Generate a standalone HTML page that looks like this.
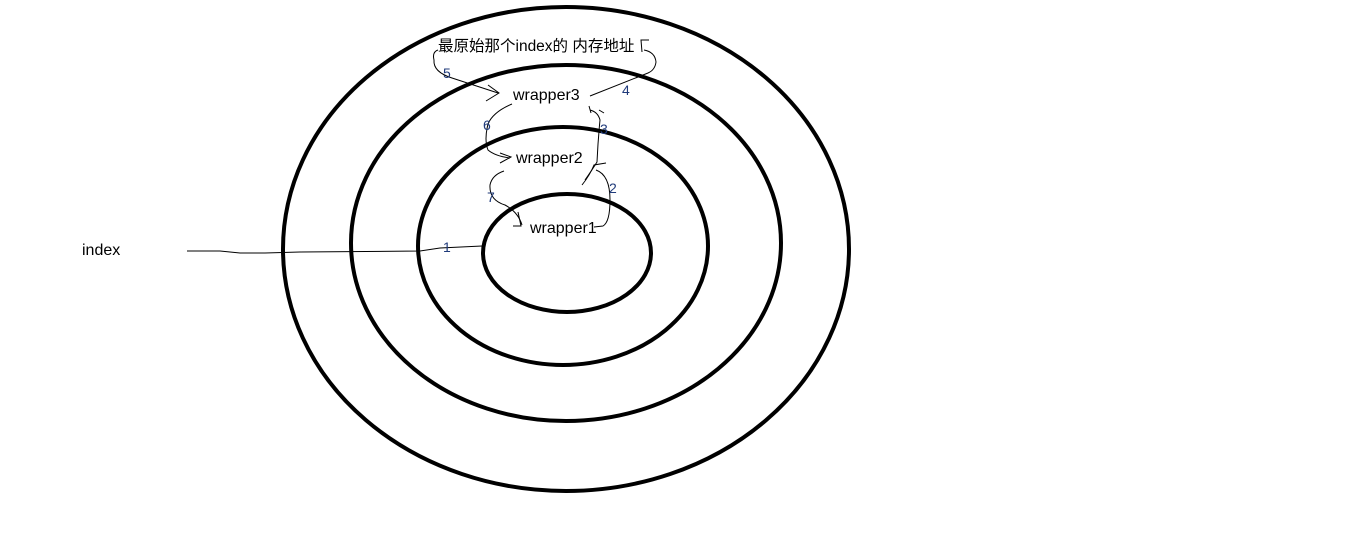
<!DOCTYPE html>
<html><head><meta charset="utf-8"><style>
html,body{margin:0;padding:0;background:#fff;width:1346px;height:549px;overflow:hidden}
text{font-family:"Liberation Sans","Noto Sans CJK SC",sans-serif}
</style></head><body>
<svg width="1346" height="549" viewBox="0 0 1346 549" xmlns="http://www.w3.org/2000/svg">
<g fill="none" stroke="#000" stroke-width="4">
<ellipse cx="566" cy="249" rx="283" ry="242"/>
<ellipse cx="566" cy="243" rx="215" ry="178"/>
<ellipse cx="563" cy="246" rx="145" ry="119"/>
<ellipse cx="567" cy="253" rx="84" ry="59"/>
</g>
<g fill="none" stroke="#000" stroke-width="1">
<path d="M187 251 L220 251 L240 253 L265 253 L300 252 L420 251 L440 248 L482 246"/>
<path d="M438 50 Q432 52 434 60 Q433 72 452 78 L498 93"/>
<path d="M488 85 L499 93 L486 101"/>
<path d="M642 52 L641 40 L649 40"/>
<path d="M644 50 Q655 52 656 62 Q655 70 648 73 L590 96"/>
<path d="M585 180 Q592 170 597 162 Q598 140 600 120 Q598 112 590 110"/>
<path d="M589 106 L591 113 M599 110 L604 113"/>
<path d="M512 104 Q493 112 488 124 Q484 140 488 150 Q495 156 510 158"/>
<path d="M500 153 L511 157 L500 163"/>
<path d="M582 185 Q590 175 594 165 L606 163"/>
<path d="M596 170 Q610 175 610 200 Q610 222 603 226 L594 227"/>
<path d="M504 171 Q492 175 490 185 Q489 200 505 205 Q518 212 522 225"/>
<path d="M518 212 L521 226 L513 226"/>
</g>
<g font-size="16" fill="#000">
<text x="82" y="255">index</text>
<text x="513" y="100">wrapper3</text>
<text x="516" y="163">wrapper2</text>
<text x="530" y="233">wrapper1</text>
<text x="438" y="51" font-size="15.5">最原始那个index的 内存地址</text>
</g>
<g font-size="14" fill="#1f3a7a">
<text x="443" y="78">5</text>
<text x="622" y="95">4</text>
<text x="600" y="134">3</text>
<text x="483" y="130">6</text>
<text x="609" y="193">2</text>
<text x="487" y="202">7</text>
<text x="443" y="252">1</text>
</g>
</svg>
</body></html>
